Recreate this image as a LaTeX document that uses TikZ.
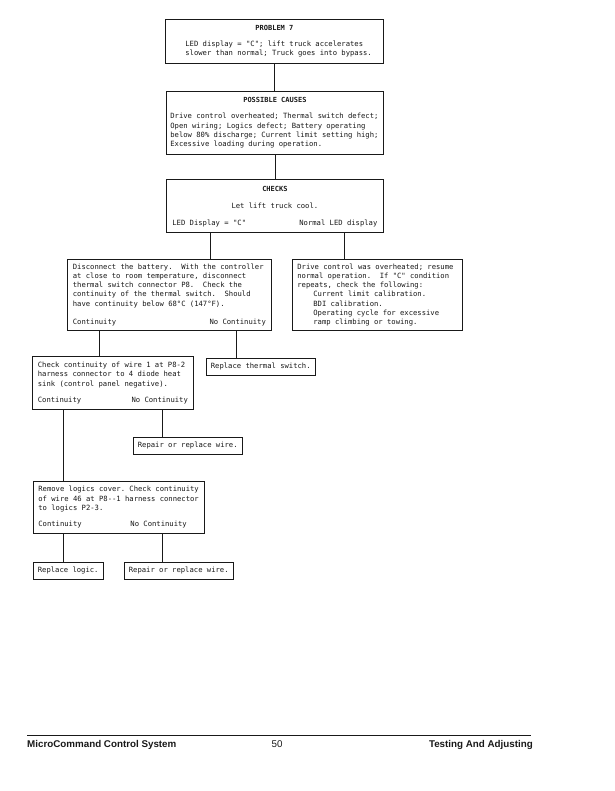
\documentclass[tikz,border=0pt]{standalone}
\usepackage{fontspec}
\newfontfamily\boxfont{DejaVu Sans Mono}
\newfontfamily\footfont{Liberation Sans}
\definecolor{pencil}{RGB}{25,25,25}
\newcommand{\boxtitle}[1]{\makebox[\linewidth]{\bfseries\fontsize{7}{9.3}\selectfont #1}}
\newcommand{\boxcentre}[1]{\makebox[\linewidth]{#1}}
\tikzset{
  box/.style={draw=pencil,line width=0.8pt,anchor=north west,align=left,
    inner ysep=#1,text=pencil,font={\boxfont\fontsize{7.2}{9.3}\selectfont\frenchspacing},
    execute at begin node={\spaceskip=0pt\xspaceskip=0pt\strut},execute at end node=\strut},
  box/.default=3pt,
  small/.style={box=3.85pt,inner xsep=4.5pt},
  link/.style={draw=pencil,line width=0.8pt},
  foot/.style={inner sep=0pt,text=pencil,font={\footfont\bfseries\fontsize{9.8}{11}\selectfont}},
}

\begin{document}
\begin{tikzpicture}[x=1pt,y=-1pt]
  \path[use as bounding box,fill=white] (0,0) rectangle (614,791);

  % problem, causes and checks
  \node[box=5pt,inner xsep=10pt,text width=198pt] (prob) at (165,19)
    {\boxtitle{PROBLEM 7}\\[6.1pt]
     \hspace*{10pt}LED display = "C"; lift truck accelerates\\
     \hspace*{10pt}slower than normal; Truck goes into bypass.};
  \node[box=4.8pt,inner xsep=4pt,text width=209pt] (causes) at (166,91)
    {\boxtitle{POSSIBLE CAUSES}\\[6.8pt]
     Drive control overheated; Thermal switch defect;\\
     Open wiring; Logics defect; Battery operating\\
     below 80\% discharge; Current limit setting high;\\
     Excessive loading during operation.};
  \node[box=5.1pt,inner xsep=6pt,text width=205pt] (checks) at (166,179)
    {\boxtitle{CHECKS}\\[7.7pt]
     \boxcentre{Let lift truck cool.}\\[7.7pt]
     LED Display = "C"\hfill Normal LED display};

  % second row
  \node[box=3.1pt,inner xsep=5.5pt,text width=193pt] (disc) at (67,259)
    {Disconnect the battery.\ \ With the controller\\
     at close to room temperature, disconnect\\
     thermal switch connector P8.\ \ Check the\\
     continuity of the thermal switch.\ \ Should\\
     have continuity below 68°C (147°F).\\[8.5pt]
     Continuity\hfill No Continuity};
  \node[box=3.1pt,inner xsep=5pt,text width=160pt] (overheat) at (292,259)
    {Drive control was overheated; resume\\
     normal operation.\ \ If "C" condition\\
     repeats, check the following:\\
     \hspace*{16pt}Current limit calibration.\\
     \hspace*{16pt}BDI calibration.\\
     \hspace*{16pt}Operating cycle for excessive\\
     \hspace*{16pt}ramp climbing or towing.};

  % wire checks
  \node[box=4.5pt,inner xsep=5.5pt,text width=150pt] (wireone) at (32,356)
    {Check continuity of wire 1 at P8-2\\
     harness connector to 4 diode heat\\
     sink (control panel negative).\\[6.8pt]
     Continuity\hfill No Continuity};
  \node[small] (thermal) at (206,357.5) {Replace thermal switch.};
  \node[small] (repairone) at (133,436.5) {Repair or replace wire.};
  \node[box=4pt,inner xsep=5pt,text width=161pt] (logics) at (33,481)
    {Remove logics cover. Check continuity\\
     of wire 46 at P8-{}-1 harness connector\\
     to logics P2-3.\\[6.6pt]
     Continuity\hspace{48.7pt}No Continuity};
  \node[small] (logic) at (33,562) {Replace logic.};
  \node[small] (repairtwo) at (124,562) {Repair or replace wire.};

  % connectors
  \draw[link] (prob.south) -- (prob.south |- causes.north);
  \draw[link] (causes.south) -- (causes.south |- checks.north);
  \draw[link] (checks.south -| 210,0) -- (disc.north -| 210,0);
  \draw[link] (checks.south -| 344,0) -- (overheat.north -| 344,0);
  \draw[link] (disc.south -| 99,0) -- (wireone.north -| 99,0);
  \draw[link] (disc.south -| 236,0) -- (thermal.north -| 236,0);
  \draw[link] (wireone.south -| 63,0) -- (logics.north -| 63,0);
  \draw[link] (wireone.south -| 162,0) -- (repairone.north -| 162,0);
  \draw[link] (logics.south -| 63,0) -- (logic.north -| 63,0);
  \draw[link] (logics.south -| 162,0) -- (repairtwo.north -| 162,0);

  % page footer
  \draw[link] (27,735) -- (531,735);
  \node[foot,anchor=base west] (system) at (27,747.5) {MicroCommand Control System};
  \node[foot,anchor=base,font={\footfont\fontsize{9.8}{11}\selectfont}] (page) at (277,747.5) {50};
  \node[foot,anchor=base east] (chapter) at (533,747.5) {Testing And Adjusting};
\end{tikzpicture}
\end{document}
